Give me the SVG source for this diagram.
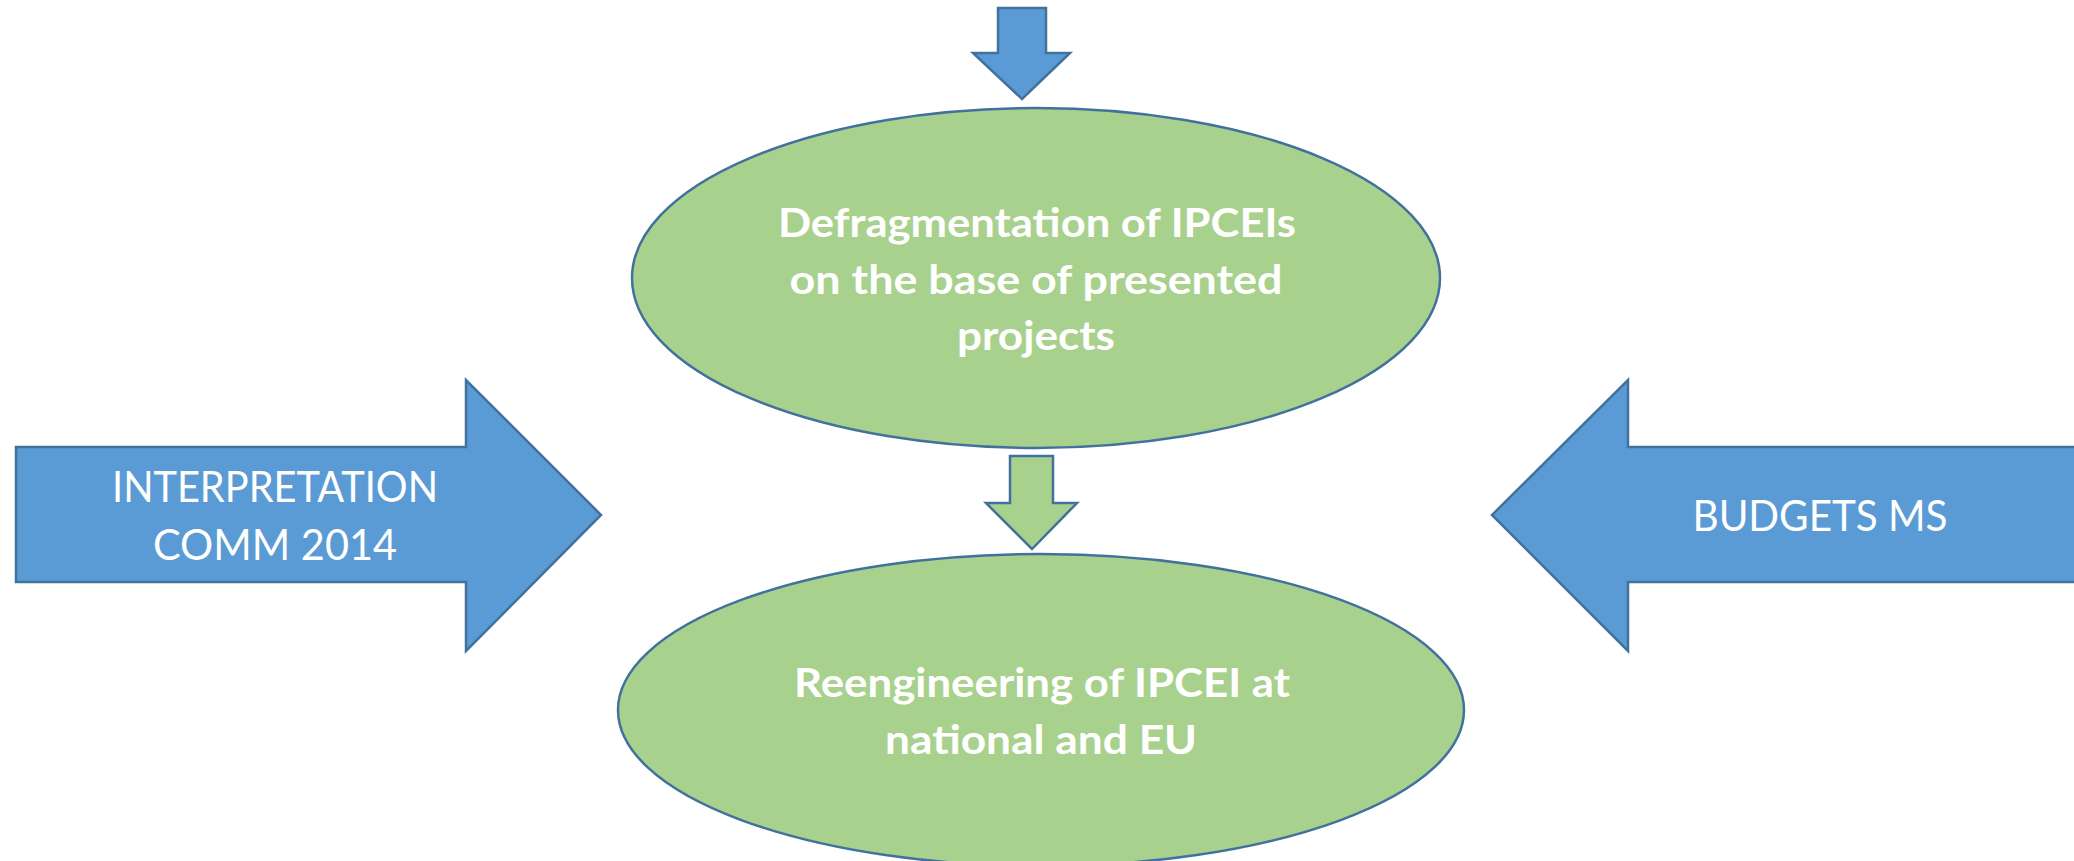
<svg xmlns="http://www.w3.org/2000/svg" width="2074" height="861" viewBox="0 0 2074 861">
<style>
.blue{fill:#5B9BD5;stroke:#41719C;stroke-width:2.5;stroke-linejoin:miter}
.green{fill:#A9D18E;stroke:#41719C;stroke-width:2.5}
.bt{font-family:Lato,"Open Sans",sans-serif;font-weight:bold;font-size:40px;fill:#fff;text-anchor:middle}
.rt{font-family:Lato,"Open Sans",sans-serif;font-size:42px;fill:#fff;text-anchor:middle}
</style>
<rect width="2074" height="861" fill="#fff"/>
<g id="connectors">
<polygon id="arrow-top" class="blue" points="998,8 1046,8 1046,53 1070,53 1022,99 973,53 998,53"/>
<polygon id="arrow-mid" class="green" points="1010,456 1053,456 1053,503 1077,503 1032,549 986,503 1010,503"/>
</g>
<g id="node-defrag">
<ellipse class="green" cx="1036" cy="278" rx="404" ry="170"/>
<text class="bt" x="1037" y="237" textLength="518" lengthAdjust="spacingAndGlyphs">Defragmentation of IPCEIs</text>
<text class="bt" x="1036" y="294" textLength="493" lengthAdjust="spacingAndGlyphs">on the base of presented</text>
<text class="bt" x="1036" y="350" textLength="158" lengthAdjust="spacingAndGlyphs">projects</text>
</g>
<g id="node-reeng">
<ellipse class="green" cx="1041" cy="710" rx="423" ry="156"/>
<text class="bt" x="1042" y="697" textLength="496" lengthAdjust="spacingAndGlyphs">Reengineering of IPCEI at</text>
<text class="bt" x="1041" y="754" textLength="312" lengthAdjust="spacingAndGlyphs">national and EU</text>
</g>
<g id="node-interpretation">
<polygon class="blue" points="16,447 466,447 466,380 601,515 466,651 466,582 16,582"/>
<text class="rt" x="275" y="502" textLength="326" lengthAdjust="spacingAndGlyphs">INTERPRETATION</text>
<text class="rt" x="275" y="560" textLength="244" lengthAdjust="spacingAndGlyphs">COMM 2014</text>
</g>
<g id="node-budgets">
<polygon class="blue" points="2080,447 1628,447 1628,380 1492,515 1628,651 1628,582 2080,582"/>
<text class="rt" x="1820" y="531" textLength="255" lengthAdjust="spacingAndGlyphs">BUDGETS MS</text>
</g>
</svg>
